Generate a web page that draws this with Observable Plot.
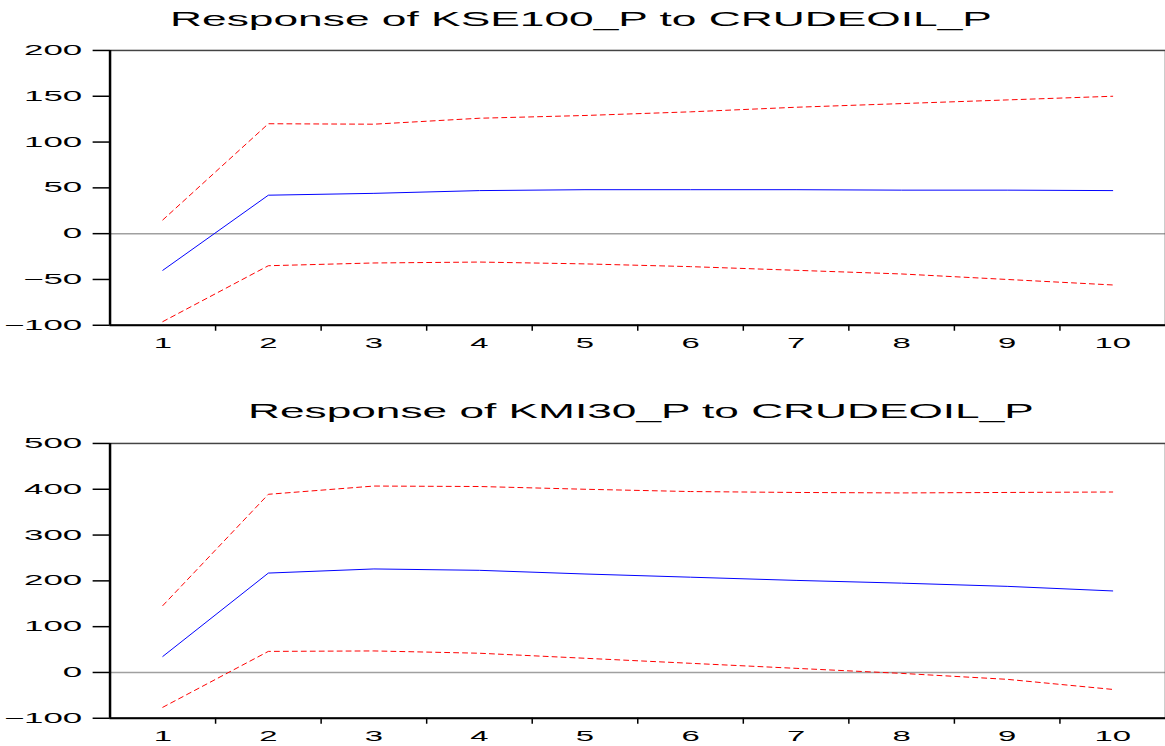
<!DOCTYPE html>
<html><head><meta charset="utf-8">
<script src="https://cdn.jsdelivr.net/npm/d3@7"></script>
<script src="https://cdn.jsdelivr.net/npm/@observablehq/plot@0.6"></script>
<style>
html,body{margin:0;padding:0;background:#fff;overflow:hidden;width:1165px;height:746px;}
.title{position:absolute;white-space:nowrap;font-family:"Liberation Sans",Arial,sans-serif;font-size:20px;line-height:20px;color:#000;transform-origin:0 50%;}
.panel{position:absolute;left:0;}
</style></head><body>
<div id="t1" class="title" style="left:170px;top:9px"></div>
<div id="p1" class="panel" style="top:40px"></div>
<div id="t2" class="title" style="left:248px;top:401px"></div>
<div id="p2" class="panel" style="top:433px"></div>
<script>
// ---- data ----
const periods = [1, 2, 3, 4, 5, 6, 7, 8, 9, 10];
const periodBounds = [1.5, 2.5, 3.5, 4.5, 5.5, 6.5, 7.5, 8.5, 9.5];
const titles = ["Response of KSE100_P to CRUDEOIL_P", "Response of KMI30_P to CRUDEOIL_P"];
const kseResp  = [-40, 42, 44, 47, 48, 48, 48, 47.5, 47.5, 47];
const kseUpper = [15, 120, 119.5, 126, 129, 133, 138, 142, 146, 150];
const kseLower = [-96, -35, -32, -31, -33, -36, -40, -44, -50, -56];
const kmiResp  = [35, 217, 226, 223, 215, 208, 201, 195, 188, 178];
const kmiUpper = [146, 389, 407, 406, 400, 395, 393, 392, 393, 394];
const kmiLower = [-76, 46, 47, 42, 31, 20, 9, -2, -15, -37];
const kseTicks = [-100, -50, 0, 50, 100, 150, 200];
const kmiTicks = [-100, 0, 100, 200, 300, 400, 500];

function panel(el, resp, upper, lower, ticks, height, marginBottom) {
  const rows = periods.map((p, i) => ({p, r: resp[i], u: upper[i], l: lower[i]}));
  const svg = Plot.plot({
    width: 1170, height, marginLeft: 110, marginRight: 0, marginTop: 10, marginBottom,
    x: {domain: [0.5, 10.5], axis: null, label: null},
    y: {domain: [ticks[0], ticks[ticks.length - 1]], axis: null, label: null},
    style: {fontFamily: "'Liberation Sans', Arial, sans-serif", fontSize: "14px", background: "white", color: "#000"},
    marks: [
      Plot.ruleY([0], {stroke: "#a0a0a0", strokeWidth: 1.5}),
      Plot.line(rows, {x: "p", y: "u", stroke: "#ff0000", strokeWidth: 1, strokeDasharray: "5,4"}),
      Plot.line(rows, {x: "p", y: "l", stroke: "#ff0000", strokeWidth: 1, strokeDasharray: "5,4"}),
      Plot.line(rows, {x: "p", y: "r", stroke: "#0000ff", strokeWidth: 1}),
      Plot.frame({stroke: "#444", strokeWidth: 1.5}),
      Plot.ruleY([ticks[0]], {stroke: "#000", strokeWidth: 2}),
      Plot.ruleX([0.5], {stroke: "#000", strokeWidth: 2.5}),
      Plot.axisY({ticks, label: null, tickSize: 17, tickPadding: 11, fontSize: 14, strokeWidth: 1.5}),
      Plot.axisX({ticks: periodBounds, label: null, tickSize: 6, tickFormat: () => "", strokeWidth: 1.5}),
      Plot.axisX({ticks: periods, label: null, tickSize: 0, tickPadding: 12, fontSize: 15})
    ]
  });
  document.getElementById(el).appendChild(svg);
  svg.querySelectorAll('g[aria-label="y-axis tick label"] text').forEach(t => stretch(t, 2.5));
  svg.querySelectorAll('g[aria-label="x-axis tick label"] text').forEach(t => stretch(t, 2.2));
}
function stretch(t, k) {
  const w = t.getComputedTextLength();
  if (w > 0) {
    t.setAttribute("textLength", w * k);
    t.setAttribute("lengthAdjust", "spacingAndGlyphs");
  }
}
function title(id, text, width) {
  const d = document.getElementById(id);
  d.textContent = text;
  d.style.transform = `scaleX(${width / d.offsetWidth})`;
}
title("t1", titles[0], 822);
title("t2", titles[1], 785);
panel("p1", kseResp, kseUpper, kseLower, kseTicks, 326, 40);
panel("p2", kmiResp, kmiUpper, kmiLower, kmiTicks, 316, 30);
</script>
</body></html>
